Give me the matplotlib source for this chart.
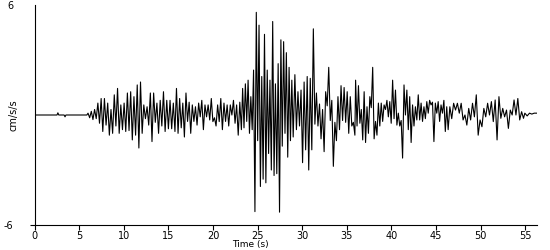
import numpy as np
import matplotlib
matplotlib.use('Agg')
import matplotlib.pyplot as plt

# quiet pre-event part (time s, acceleration cm/s/s)
quiet_t = [0, 2.5, 2.6, 2.7, 3.3, 3.4, 3.5, 5.85]
quiet_v = [0, 0, 0.12, 0, 0, -0.1, 0, 0]

# peak-to-peak readings of the trace, one list per stretch of record
seg_b = [0.1, -0.15, 0.2, -0.25, 0.3, -0.2,
         0.65, -0.45, 0.9, -0.9, 0.9, -0.55, 0.65, -1.1, 0.3, -1.0, 1.1, -0.6,
         1.45, -1.0, 0.55, -0.8, 0.65, -0.9, 1.2, -0.85, 1.27, -1.36, 1.0, -1.1,
         1.64, -1.8, 1.8, -1.0, 0.55, -0.2, 0.45, -0.55, 1.2, -1.45, 1.2, -0.4,
         0.65, -1.0, 0.8, -0.6, 1.27, -0.9, 0.8, -0.75, 0.8, -0.75, 0.65, -0.9]
seg_c = [1.45, -1.0, 0.9, -0.7, 0.65, -1.2, 1.2, -0.35, 0.7, -1.0, 0.55, -0.35,
         0.45, -0.55, 0.65, -0.1, 0.8, -0.8, 0.55, -0.1, 0.55, -0.27, 0.9, -0.36,
         -0.15, -0.6, 0.55, -0.36, 0.9, -0.8, 0.65, -0.35, 0.55, -0.6, 0.55, 0.0,
         0.8, -0.45, 0.55, -1.1, 0.7, -0.8]
seg_d = [1.45, -0.7, 1.7, -0.35, 1.9, -1.0, 1.0, -0.8, 2.45, -5.27, 5.6, -1.4,
         4.9, -3.9, 2.1, -3.5, 4.4, -3.7, 2.45, -2.1, 1.9, -3.0, 5.1, -3.3,
         1.7, -3.2, 2.8, -5.3, 4.1, -1.7, 4.0, -1.0, 3.4, -2.3, 2.6, -1.4, 1.9, -1.2]
seg_e = [2.2, -0.8, 1.27, -0.6, 1.36, -2.6, 1.8, -1.9, 2.1, -3.0, 2.0, -1.9,
         4.7, -0.5, 1.2, -0.6, 0.6, -1.3, 0.3, -2.0, 1.27, 0.5, 2.6, -0.3,
         0.8, -2.8, -0.4, -1.4, 1.0, -0.8, 1.6, -0.3, 1.5, -0.4, 1.27, -1.0,
         1.0, -0.6, -0.4, -1.1]
seg_f = [1.9, -0.6, 1.6, -0.45, 0.3, -1.36, 1.27, -1.5, 0.45, -1.0, 1.0, 0.4,
         2.6, -1.3, -0.35, -1.1, 0.65, -0.6, 0.65, -0.35, 0.55, 0.3, 0.8, -0.1,
         0.73, -0.45, 1.9, -0.2, 1.36, -0.55, 0.1, -0.6, -0.3, -2.35, 1.64, 0.0,
         1.36, -0.8, 1.0, -1.5, 0.55, -0.6, 0.45, -0.27, 1.1, -0.27, 0.65, -0.35,
         0.45, -0.2, 0.73, 0.1, 0.8, 0.55, 0.7, -1.45, 0.65, 0.1, 0.73, -0.35,
         0.55, 0.1, 0.8, -0.9, 0.45, -0.8]
seg_g = [0.45, -0.2, 0.64, 0.27, 0.64, 0.1, 0.64, -0.27, 0.0, -0.55, 0.36, -0.27,
         0.64, -0.1, 1.1, -1.1, -0.27, -0.64, 0.36, -0.1, 0.64, 0.0, 0.73, -0.36,
         0.82, -1.36, 1.0, -0.18, 0.36, -0.1, 0.27, -0.73, 0.27, 0.0, 0.82, 0.0,
         0.9, -0.27, 0.18, -0.18]
seg_tail = [0.1, -0.05, 0.1, 0.05, 0.1, 0.1]

# start / end time (s) of each stretch
seg_spans = [(5.98, 15.73), (15.90, 23.18), (23.32, 28.99), (29.18, 35.91),
             (35.99, 46.37), (46.56, 54.82), (54.97, 56.28)]
segments = [seg_b, seg_c, seg_d, seg_e, seg_f, seg_g, seg_tail]

t = list(quiet_t)
acc = list(quiet_v)
for (t0, t1), vals in zip(seg_spans, segments):
    t.extend(np.linspace(t0, t1, len(vals)))
    acc.extend(vals)

plt.rcParams['font.family'] = ['DejaVu Sans']
fig = plt.figure(figsize=(5.5, 2.5), dpi=100)
ax = fig.add_axes([0.0631, 0.1, 0.9127, 0.88])

ax.plot(t, acc, color='black', lw=0.8)

ax.set_xlim(0, 56.3)
ax.set_ylim(-6, 6)
ax.set_xticks(range(0, 56, 5))
ax.set_yticks([-6, 6])
ax.set_yticklabels(['-6', '6'])
for s in ['top', 'right']:
    ax.spines[s].set_visible(False)
for s in ['left', 'bottom']:
    ax.spines[s].set_linewidth(0.8)
ax.tick_params(axis='x', direction='out', length=3.5, width=0.8, labelsize=7, pad=0.8)
ax.tick_params(axis='y', direction='out', length=3.5, width=0.8, labelsize=7, pad=12)
ax.yaxis.get_major_ticks()[1].tick1line.set_visible(False)

fig.text(14 / 550, 1 - 115 / 250, 'cm/s/s', rotation=90, fontsize=7,
         ha='center', va='center')
fig.text(250 / 550, 0.5 / 250, 'Time (s)', fontsize=6.5, ha='center', va='bottom')

fig.savefig('out.png', dpi=100)
